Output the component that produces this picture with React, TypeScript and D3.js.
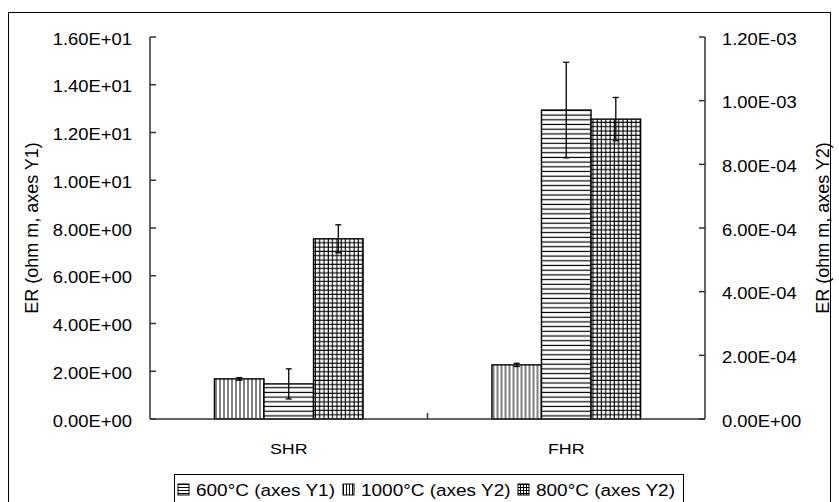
import * as d3 from "d3";
import React from "react";

const categories = ["SHR", "FHR"];
// bar order inside each group: vertical lines, horizontal lines, grid
const barSeries = ["1000", "600", "800"];
const legendSeries = ["600", "1000", "800"];
const seriesLabels: Record<string, string> = {
  "600": "600°C (axes Y1)",
  "1000": "1000°C (axes Y2)",
  "800": "800°C (axes Y2)",
};
const seriesAxis: Record<string, string> = { "600": "y1", "1000": "y2", "800": "y2" };
const seriesPattern: Record<string, string> = { "600": "horiz", "1000": "vert", "800": "grid" };

const values600 = [1.47, 12.94];
const errors600 = [0.63, 2.0];
const values1000 = [1.26e-4, 1.7e-4];
const errors1000 = [0.04e-4, 0.05e-4];
const values800 = [5.66e-4, 9.42e-4];
const errors800 = [0.44e-4, 0.68e-4];

const leftTicks = [0, 2, 4, 6, 8, 10, 12, 14, 16];
const rightTicks = [0, 2e-4, 4e-4, 6e-4, 8e-4, 10e-4, 12e-4];

const seriesValues: Record<string, number[]> = { "600": values600, "1000": values1000, "800": values800 };
const seriesErrors: Record<string, number[]> = { "600": errors600, "1000": errors1000, "800": errors800 };

const W = 839;
const H = 502;
const left = 150;
const right = 705;
const top = 37;
const bottom = 419;
const font = "'Liberation Sans', Arial, sans-serif";
const sx = 1.15;

// 1.60E+01 style
function sci(v: number) {
  const [m, e] = v.toExponential(2).split("e");
  const n = parseInt(e, 10);
  const sign = n < 0 ? "-" : "+";
  return `${m}E${sign}${String(Math.abs(n)).padStart(2, "0")}`;
}

function SText({ x, y, anchor, size, children }: any) {
  return (
    <text
      transform={`translate(${x},${y}) scale(${sx},1)`}
      textAnchor={anchor}
      fontFamily={font}
      fontSize={size}
      fill="#000"
    >
      {children}
    </text>
  );
}

export default function App() {
  const x0 = d3.scaleBand().domain(categories).range([left, right]).padding(0);
  const x1 = d3
    .scaleBand()
    .domain(barSeries)
    .range([0, x0.bandwidth()])
    .paddingInner(0)
    .paddingOuter(1.3);
  const y1 = d3.scaleLinear().domain([0, 16]).range([bottom, top]);
  const y2 = d3.scaleLinear().domain([0, 1.2e-3]).range([bottom, top]);
  const yOf = (s: string) => (seriesAxis[s] === "y1" ? y1 : y2);

  const legendX: Record<string, number> = { "600": 178, "1000": 343, "800": 518 };

  return (
    <svg
      width={W}
      height={H}
      style={{ position: "absolute", left: 0, top: 0, background: "#fff" }}
    >
      <defs>
        <pattern id="vert" width={4} height={4} patternUnits="userSpaceOnUse">
          <rect width={4} height={4} fill="#fff" />
          <line x1={2} y1={0} x2={2} y2={4} stroke="#000" strokeWidth={1} />
        </pattern>
        <pattern id="horiz" width={4.7} height={4.7} patternUnits="userSpaceOnUse">
          <rect width={4.7} height={4.7} fill="#fff" />
          <line x1={0} y1={2.3} x2={4.7} y2={2.3} stroke="#000" strokeWidth={1.2} />
        </pattern>
        <pattern id="grid" width={4.3} height={4.3} patternUnits="userSpaceOnUse">
          <rect width={4.3} height={4.3} fill="#fff" />
          <line x1={2} y1={0} x2={2} y2={4.3} stroke="#000" strokeWidth={1.1} />
          <line x1={0} y1={2} x2={4.3} y2={2} stroke="#000" strokeWidth={1.1} />
        </pattern>
        <pattern id="vertS" width={3} height={3} patternUnits="userSpaceOnUse">
          <rect width={3} height={3} fill="#fff" />
          <line x1={1.5} y1={0} x2={1.5} y2={3} stroke="#000" strokeWidth={1} />
        </pattern>
        <pattern id="horizS" width={3} height={3} patternUnits="userSpaceOnUse">
          <rect width={3} height={3} fill="#fff" />
          <line x1={0} y1={1.5} x2={3} y2={1.5} stroke="#000" strokeWidth={1} />
        </pattern>
        <pattern id="gridS" width={3} height={3} patternUnits="userSpaceOnUse">
          <rect width={3} height={3} fill="#fff" />
          <line x1={1.5} y1={0} x2={1.5} y2={3} stroke="#000" strokeWidth={1} />
          <line x1={0} y1={1.5} x2={3} y2={1.5} stroke="#000" strokeWidth={1} />
        </pattern>
      </defs>

      {/* outer frame */}
      <rect x={8.5} y={12.5} width={822} height={495} fill="none" stroke="#000" strokeWidth={1} />

      {/* bars */}
      {categories.map((c, ci) => (
        <g key={c} transform={`translate(${x0(c)},0)`}>
          {barSeries.map((s) => {
            const ys = yOf(s);
            const v = seriesValues[s][ci];
            const e = seriesErrors[s][ci];
            const bx = x1(s) as number;
            const bw = x1.bandwidth();
            const cx = bx + bw / 2;
            return (
              <g key={s}>
                <rect
                  x={bx}
                  y={ys(v)}
                  width={bw}
                  height={bottom - ys(v)}
                  fill={`url(#${seriesPattern[s]})`}
                  stroke="#000"
                  strokeWidth={1.4}
                />
                <line x1={cx} x2={cx} y1={ys(v + e)} y2={ys(v - e)} stroke="#000" strokeWidth={1.3} />
                <line x1={cx - 3} x2={cx + 3} y1={ys(v + e)} y2={ys(v + e)} stroke="#000" strokeWidth={1.3} />
                <line x1={cx - 3} x2={cx + 3} y1={ys(v - e)} y2={ys(v - e)} stroke="#000" strokeWidth={1.3} />
              </g>
            );
          })}
        </g>
      ))}

      {/* left axis */}
      <line x1={left} x2={left} y1={top} y2={bottom} stroke="#333" strokeWidth={1.5} />
      {leftTicks.map((t) => (
        <g key={t}>
          <line x1={left} x2={left + 6} y1={y1(t)} y2={y1(t)} stroke="#333" strokeWidth={1.5} />
          <SText x={132} y={y1(t) + 7.5} anchor="end" size={16}>
            {sci(t)}
          </SText>
        </g>
      ))}

      {/* right axis */}
      <line x1={right} x2={right} y1={top} y2={bottom} stroke="#333" strokeWidth={1.5} />
      {rightTicks.map((t) => (
        <g key={t}>
          <line x1={right - 6} x2={right} y1={y2(t)} y2={y2(t)} stroke="#333" strokeWidth={1.5} />
          <SText x={722} y={y2(t) + 7.5} anchor="start" size={16}>
            {sci(t)}
          </SText>
        </g>
      ))}

      {/* x axis */}
      <line x1={left} x2={right} y1={bottom} y2={bottom} stroke="#333" strokeWidth={1.5} />
      {categories.slice(1).map((c) => (
        <line
          key={c}
          x1={x0(c)}
          x2={x0(c)}
          y1={bottom}
          y2={bottom - 6}
          stroke="#333"
          strokeWidth={1.5}
        />
      ))}
      {categories.map((c) => (
        <SText key={c} x={(x0(c) as number) + x0.bandwidth() / 2} y={454} anchor="middle" size={15.5}>
          {c}
        </SText>
      ))}

      {/* axis titles */}
      <text
        transform={`translate(38,${(top + bottom) / 2}) rotate(-90)`}
        textAnchor="middle"
        fontFamily={font}
        fontSize={18}
      >
        ER (ohm m, axes Y1)
      </text>
      <text
        transform={`translate(829,${(top + bottom) / 2}) rotate(-90)`}
        textAnchor="middle"
        fontFamily={font}
        fontSize={18}
      >
        ER (ohm m, axes Y2)
      </text>

      {/* legend */}
      <rect x={174.5} y={474.5} width={509} height={30} fill="#fff" stroke="#000" strokeWidth={1} />
      {legendSeries.map((s) => (
        <g key={s}>
          <rect
            x={legendX[s]}
            y={484}
            width={11}
            height={11}
            fill={`url(#${seriesPattern[s]}S)`}
            stroke="#000"
            strokeWidth={1}
          />
          <SText x={legendX[s] + 18} y={496} anchor="start" size={16.5}>
            {seriesLabels[s]}
          </SText>
        </g>
      ))}
    </svg>
  );
}
